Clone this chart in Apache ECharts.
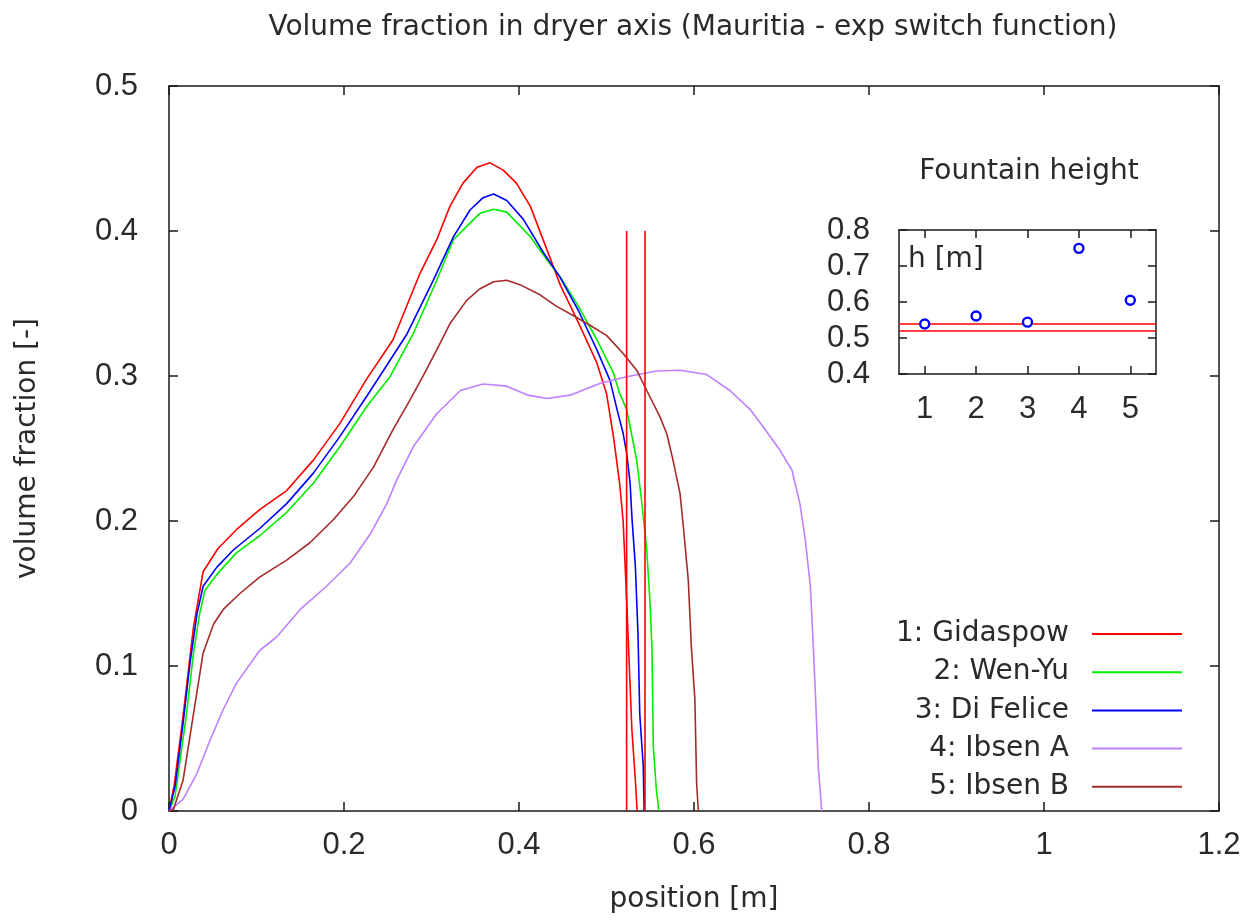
<!DOCTYPE html>
<html>
<head>
<meta charset="utf-8">
<script src="https://cdn.jsdelivr.net/npm/echarts@6/dist/echarts.min.js"></script>
<style>html,body{margin:0;padding:0;background:#fff}#c{width:1243px;height:920px}</style>
</head>
<body>
<div id="c"></div>
<script>
// ---- data ----
var xTicks = [0, 0.2, 0.4, 0.6, 0.8, 1, 1.2];
var yTicks = [0, 0.1, 0.2, 0.3, 0.4, 0.5];
var gidaspow = [[0,0],[0.006,0.018],[0.016,0.065],[0.028,0.127],[0.039,0.165],[0.056,0.181],[0.077,0.194],[0.104,0.208],[0.1345,0.221],[0.165,0.242],[0.195,0.267],[0.226,0.298],[0.256,0.325],[0.287,0.371],[0.306,0.394],[0.321,0.417],[0.336,0.433],[0.352,0.444],[0.367,0.447],[0.382,0.442],[0.397,0.433],[0.413,0.417],[0.432,0.387],[0.447,0.363],[0.470,0.334],[0.489,0.309],[0.500,0.288],[0.508,0.258],[0.515,0.226],[0.519,0.200],[0.523,0.146],[0.529,0.056],[0.533,0.021],[0.535,0]];
var wenYu = [[0,0],[0.007,0.01],[0.020,0.067],[0.028,0.109],[0.035,0.136],[0.041,0.152],[0.0545,0.163],[0.077,0.178],[0.104,0.190],[0.1345,0.206],[0.165,0.226],[0.195,0.251],[0.226,0.279],[0.2526,0.2995],[0.279,0.329],[0.306,0.366],[0.325,0.394],[0.340,0.403],[0.355,0.412],[0.371,0.415],[0.386,0.413],[0.413,0.396],[0.432,0.380],[0.447,0.3685],[0.468,0.348],[0.489,0.325],[0.508,0.302],[0.515,0.288],[0.523,0.277],[0.527,0.265],[0.5345,0.242],[0.540,0.2145],[0.544,0.192],[0.546,0.180],[0.550,0.141],[0.552,0.111],[0.5535,0.044],[0.557,0.0145],[0.560,0]];
var diFelice = [[0,0],[0.007,0.017],[0.016,0.06],[0.024,0.102],[0.032,0.136],[0.039,0.155],[0.0545,0.168],[0.0735,0.180],[0.104,0.195],[0.1345,0.212],[0.165,0.233],[0.195,0.258],[0.226,0.286],[0.241,0.300],[0.272,0.329],[0.302,0.366],[0.325,0.396],[0.344,0.4145],[0.359,0.423],[0.371,0.4255],[0.386,0.421],[0.405,0.408],[0.428,0.385],[0.447,0.368],[0.468,0.345],[0.489,0.318],[0.504,0.297],[0.512,0.277],[0.519,0.2605],[0.523,0.247],[0.527,0.226],[0.529,0.203],[0.533,0.1685],[0.536,0.122],[0.538,0.067],[0.542,0.031],[0.543,0]];
var ibsenA = [[0,0],[0.016,0.008],[0.032,0.026],[0.047,0.049],[0.062,0.070],[0.077,0.088],[0.104,0.111],[0.123,0.120],[0.150,0.139],[0.180,0.155],[0.207,0.171],[0.230,0.191],[0.249,0.212],[0.260,0.228],[0.279,0.251],[0.306,0.274],[0.333,0.290],[0.359,0.2945],[0.386,0.293],[0.409,0.287],[0.432,0.2845],[0.460,0.287],[0.493,0.295],[0.523,0.2995],[0.557,0.3035],[0.584,0.304],[0.6145,0.301],[0.641,0.290],[0.664,0.277],[0.679,0.265],[0.698,0.249],[0.712,0.235],[0.721,0.212],[0.727,0.188],[0.733,0.155],[0.736,0.118],[0.739,0.077],[0.742,0.031],[0.746,0]];
var ibsenB = [[0,0],[0.005,0.001],[0.016,0.021],[0.028,0.067],[0.039,0.109],[0.051,0.129],[0.062,0.139],[0.081,0.150],[0.104,0.1615],[0.1345,0.173],[0.161,0.185],[0.188,0.201],[0.211,0.217],[0.2335,0.237],[0.256,0.263],[0.275,0.283],[0.290,0.2995],[0.306,0.318],[0.321,0.336],[0.340,0.352],[0.355,0.360],[0.371,0.365],[0.386,0.366],[0.401,0.363],[0.424,0.356],[0.443,0.348],[0.464,0.341],[0.481,0.335],[0.500,0.328],[0.519,0.3155],[0.5345,0.304],[0.546,0.290],[0.561,0.272],[0.569,0.260],[0.576,0.242],[0.584,0.219],[0.588,0.195],[0.5935,0.159],[0.597,0.113],[0.601,0.077],[0.603,0.019],[0.605,0]];
var seriesNames = ['1: Gidaspow', '2: Wen-Yu', '3: Di Felice', '4: Ibsen A', '5: Ibsen B'];
var seriesColors = ['#ff0000', '#00ee00', '#0000ff', '#bf80ff', '#a52a2a'];
// inset: fountain height
var insetCategories = ['1', '2', '3', '4', '5'];
var fountainHeights = [0.539, 0.561, 0.544, 0.749, 0.605];
var fountainRefLines = [0.523, 0.544];
var refLineTop = 0.4;

var WFONT = 'DejaVu Sans, sans-serif';
var NFONT = 'Liberation Sans, Arial, sans-serif';
var TXT = '#2a2a2a';
var AX = '#1a1a1a';
var curves = [gidaspow, wenYu, diFelice, ibsenA, ibsenB];

var series = [];
curves.forEach(function (d, i) {
  series.push({
    name: seriesNames[i], type: 'line', xAxisIndex: 0, yAxisIndex: 0,
    data: d, showSymbol: false, symbol: 'none', smooth: false,
    lineStyle: { color: seriesColors[i], width: 1.6 }, itemStyle: { color: seriesColors[i] },
    animation: false, z: 3
  });
});
fountainRefLines.forEach(function (v, i) {
  series.push({
    name: 'ref' + i, type: 'line', xAxisIndex: 0, yAxisIndex: 0,
    data: [[v, 0], [v, refLineTop]], showSymbol: false, symbol: 'none',
    lineStyle: { color: '#ff0000', width: 1.6 }, animation: false, z: 4
  });
});
series.push({
  name: 'Fountain height', type: 'scatter', xAxisIndex: 2, yAxisIndex: 2,
  data: fountainHeights, symbol: 'circle', symbolSize: 9,
  itemStyle: { color: '#ffffff', borderColor: '#0000ff', borderWidth: 2.4, opacity: 1 },
  animation: false, z: 5,
  markLine: {
    silent: true, symbol: 'none', animation: false,
    label: { show: false },
    lineStyle: { color: '#ff0000', width: 1.6, type: 'solid' },
    data: fountainRefLines.map(function (v) { return { yAxis: v }; })
  }
});

function mainX(pos, show) {
  return {
    type: 'value', gridIndex: 0, position: pos, min: 0, max: 1.2, interval: 0.2,
    axisLine: { show: true, onZero: false, lineStyle: { color: AX, width: 1.5 } },
    axisTick: { show: true, inside: true, length: 9, lineStyle: { color: AX, width: 1.5 } },
    axisLabel: { show: show, margin: 19, fontSize: 31, fontFamily: NFONT, color: TXT },
    splitLine: { show: false },
    name: show ? 'position [m]' : '', nameLocation: 'middle', nameGap: 75,
    nameTextStyle: { fontSize: 28, fontFamily: WFONT, color: TXT }
  };
}
function mainY(pos, show) {
  return {
    type: 'value', gridIndex: 0, position: pos, min: 0, max: 0.5, interval: 0.1,
    axisLine: { show: true, onZero: false, lineStyle: { color: AX, width: 1.5 } },
    axisTick: { show: true, inside: true, length: 9, lineStyle: { color: AX, width: 1.5 } },
    axisLabel: { show: show, margin: 31, fontSize: 31, fontFamily: NFONT, color: TXT },
    splitLine: { show: false },
    name: show ? 'volume fraction [-]' : '', nameLocation: 'middle', nameGap: 127,
    nameTextStyle: { fontSize: 28, fontFamily: WFONT, color: TXT }
  };
}
function insetX(pos, show) {
  return {
    type: 'category', gridIndex: 1, position: pos, data: insetCategories, boundaryGap: true,
    axisLine: { show: true, onZero: false, lineStyle: { color: AX, width: 1.5 } },
    axisTick: { show: true, inside: true, alignWithLabel: true, length: 8, lineStyle: { color: AX, width: 1.5 } },
    axisLabel: { show: show, margin: 20, fontSize: 31, fontFamily: NFONT, color: TXT },
    splitLine: { show: false }
  };
}
function insetY(pos, show) {
  return {
    type: 'value', gridIndex: 1, position: pos, min: 0.4, max: 0.8, interval: 0.1,
    axisLine: { show: true, onZero: false, lineStyle: { color: AX, width: 1.5 } },
    axisTick: { show: true, inside: true, length: 8, lineStyle: { color: AX, width: 1.5 } },
    axisLabel: { show: show, margin: 29, fontSize: 31, fontFamily: NFONT, color: TXT },
    splitLine: { show: false }
  };
}

var option = {
  backgroundColor: '#ffffff',
  animation: false,
  title: [
    { text: 'Volume fraction in dryer axis (Mauritia - exp switch function)', left: 688, top: 9, textAlign: 'center',
      textStyle: { fontSize: 28, fontWeight: 'normal', fontFamily: WFONT, color: TXT } },
    { text: 'Fountain height', left: 1024, top: 153, textAlign: 'center',
      textStyle: { fontSize: 28, fontWeight: 'normal', fontFamily: WFONT, color: TXT } },
    { text: 'h [m]', left: 903, top: 241,
      textStyle: { fontSize: 28, fontWeight: 'normal', fontFamily: WFONT, color: TXT } }
  ],
  legend: {
    data: seriesNames, orient: 'vertical', align: 'right', right: 56, top: 614,
    icon: 'rect', itemWidth: 90, itemHeight: 2, itemGap: 8.2,
    textStyle: { fontSize: 28, fontFamily: WFONT, color: TXT, lineHeight: 30, padding: [0, 18, 0, 0] },
    selectedMode: false
  },
  grid: [
    { left: 169, top: 86, right: 24, bottom: 109, containLabel: false, outerBoundsMode: 'none' },
    { left: 899, top: 230, width: 257, height: 144, containLabel: false, outerBoundsMode: 'none' }
  ],
  xAxis: [mainX('bottom', true), mainX('top', false), insetX('bottom', true), insetX('top', false)],
  yAxis: [mainY('left', true), mainY('right', false), insetY('left', true), insetY('right', false)],
  series: series
};

var chart = echarts.init(document.getElementById('c'), null, { renderer: 'canvas' });
chart.setOption(option);
</script>
</body>
</html>
